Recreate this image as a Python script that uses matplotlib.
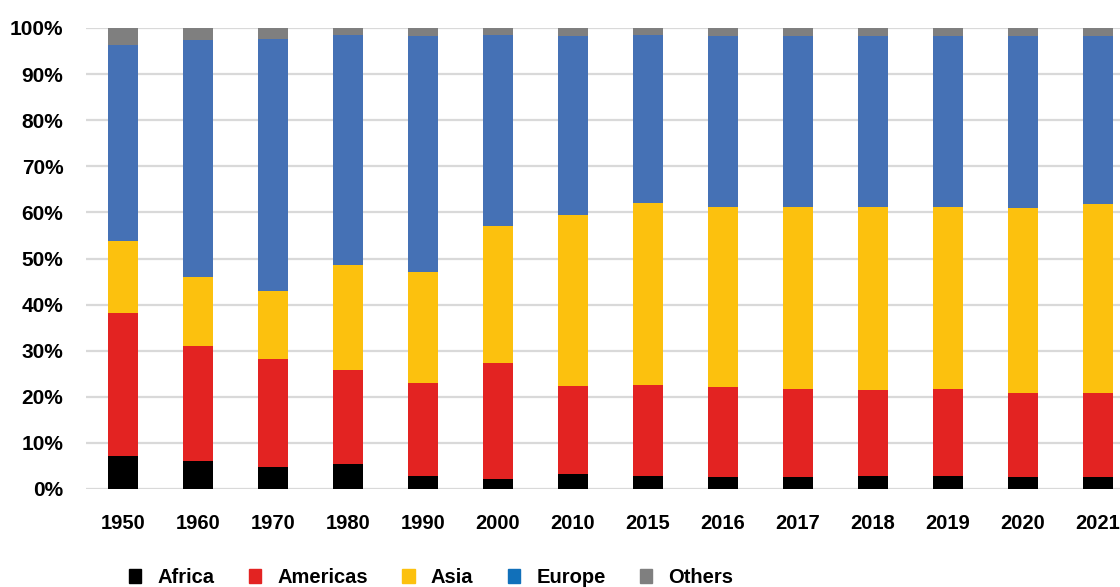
import numpy as np
import matplotlib.pyplot as plt
from matplotlib.patches import Patch

plt.rcParams['font.family'] = ['Liberation Sans', 'DejaVu Sans']

years = ['1950', '1960', '1970', '1980', '1990', '2000', '2010',
         '2015', '2016', '2017', '2018', '2019', '2020', '2021']

# shares in %
africa   = [7.2, 6.1, 4.8, 5.4, 2.8, 2.2, 3.3, 2.8, 2.7, 2.7, 2.8, 2.8, 2.5, 2.6]
americas = [31.0, 24.9, 23.4, 20.4, 20.2, 25.1, 19.0, 19.8, 19.5, 19.1, 18.7, 18.8, 18.4, 18.3]
asia     = [15.6, 15.0, 14.8, 22.8, 24.1, 29.7, 37.1, 39.4, 38.9, 39.4, 39.6, 39.5, 40.0, 40.9]
europe   = [42.6, 51.3, 54.7, 49.9, 51.2, 41.5, 38.9, 36.4, 37.2, 37.1, 37.2, 37.2, 37.3, 36.4]
others   = [3.6, 2.7, 2.3, 1.5, 1.7, 1.5, 1.7, 1.6, 1.7, 1.7, 1.7, 1.7, 1.8, 1.8]

colors = ['#000000', '#E32322', '#FCC10E', '#4571B5', '#7F7F7F']
legend_colors = ['#000000', '#E32322', '#FCC10E', '#1170BA', '#7F7F7F']
names = ['Africa', 'Americas', 'Asia', 'Europe', 'Others']

fig = plt.figure(figsize=(11.2, 5.87), dpi=100)
ax = fig.add_axes([85.5 / 1120, 1 - 489 / 587, 1050 / 1120, 461 / 587])

x = np.arange(len(years))
bottom = np.zeros(len(years))
for i, (vals, c) in enumerate(zip([africa, americas, asia, europe, others], colors)):
    w = 0.41 if i == 0 else 0.39
    ax.bar(x, vals, width=w, bottom=bottom, color=c, edgecolor='none', zorder=3)
    bottom += np.array(vals)

ax.set_xlim(-0.5, len(years) - 0.5)
ax.set_ylim(0, 100)
ax.set_yticks(np.arange(0, 101, 10))
ax.set_yticklabels([f'{v}%' for v in range(0, 101, 10)], fontsize=15, fontweight='bold')
ax.set_xticks(x)
ax.set_xticklabels(years, fontsize=14.5, fontweight='bold')
ax.tick_params(axis='y', length=0, pad=16)
ax.tick_params(axis='x', length=0, pad=18)
ax.grid(axis='y', color='#D9D9D9', linewidth=1.6, zorder=0)
for s in ax.spines.values():
    s.set_visible(False)

handles = [Patch(color=c, label=n) for c, n in zip(legend_colors, names)]
fig.legend(handles=handles, loc='center', bbox_to_anchor=(0.385, 0.016), ncol=5,
           frameon=False, prop={'weight': 'bold', 'size': 14.5},
           handlelength=0.62, handleheight=0.62, handletextpad=0.8,
           columnspacing=1.7)

fig.savefig('out.png', dpi=100)
